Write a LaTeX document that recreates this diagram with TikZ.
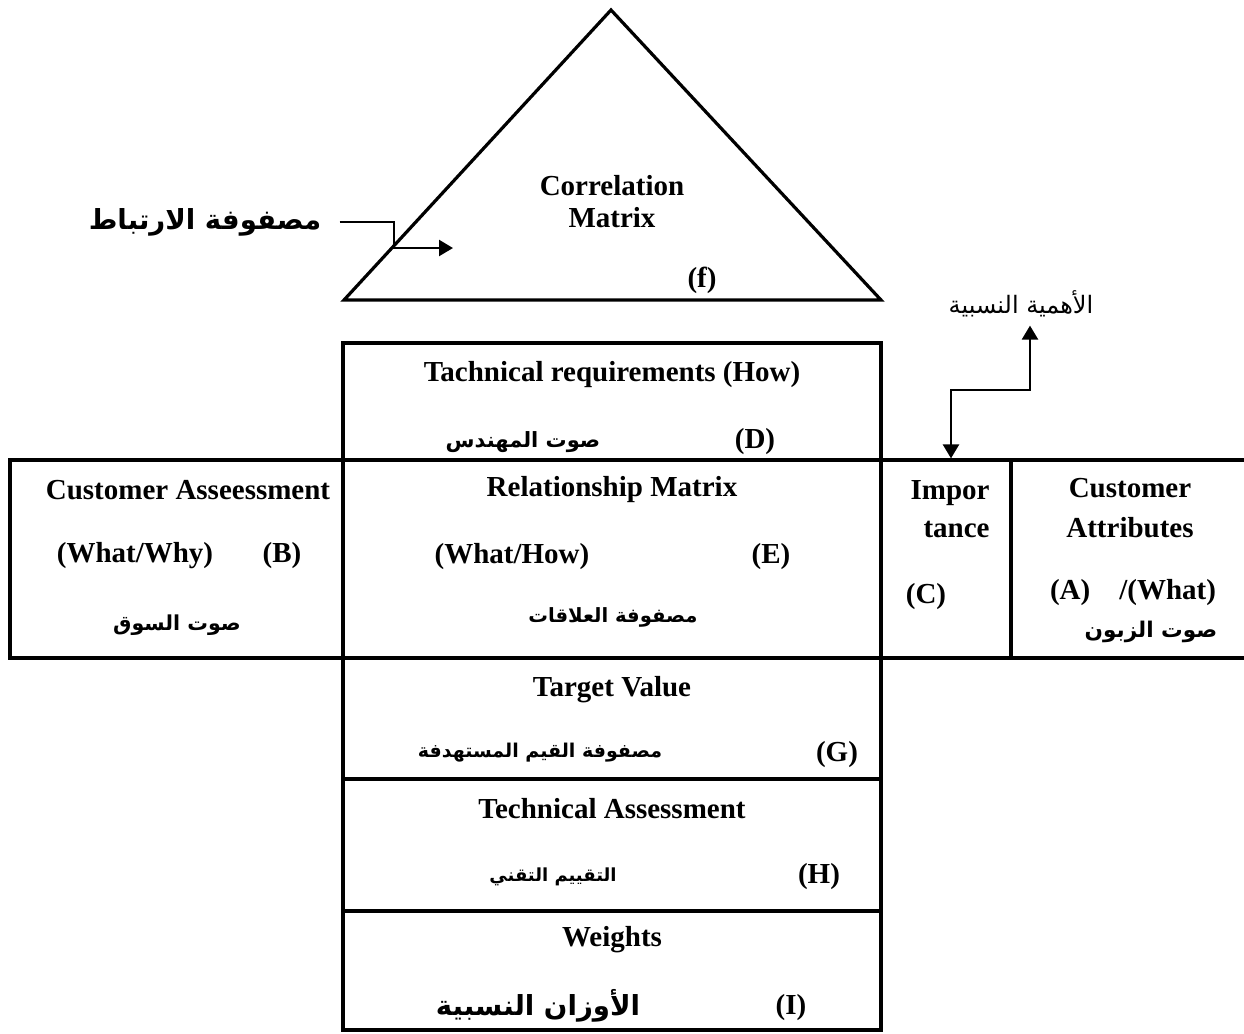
\documentclass[tikz,border=0pt]{standalone}
\usepackage{fontspec}
\setmainfont{Liberation Serif}
\newfontfamily\arabicfont[Script=Arabic]{DejaVu Sans}
\TeXXeTstate=1
\usetikzlibrary{arrows.meta,positioning}

\begin{document}
\begin{tikzpicture}[x=0.5pt, y=-0.5pt,
    cell/.style={draw, rectangle, line width=1.6pt, inner sep=0pt},
    txt/.style={font=\bfseries\fontsize{14.5}{19}\selectfont, inner sep=0pt},
    artxt/.style={font=\arabicfont\bfseries\fontsize{#1}{14}\selectfont, inner sep=0pt},
    artxt/.default=10.5,
    arrowline/.style={-{Triangle[length=7pt, width=8pt]}, line width=1.2pt}
]
\useasboundingbox (0,0) rectangle (1244,1034);
\clip (0,0) rectangle (1244,1034);

% Correlation roof
\coordinate (apex) at (611,10);
\coordinate (roofleft) at (344,300);
\coordinate (roofright) at (881,300);
\draw[line width=1.6pt, line join=miter] (apex) -- (roofleft) -- (roofright) -- cycle;
\node[txt, align=center, font=\bfseries\fontsize{14.5}{16}\selectfont] (corr) at (612,202) {Correlation\\Matrix};
\node[txt] (ftxt) at (702,280) {(f)};

% Label of the roof
\node[artxt=13.8] (corrlabel) at (205,222) {\beginR مصفوفة الارتباط\endR};
\coordinate (corrknee) at (394,248);
\coordinate (corrtip) at (453,248);
\draw[arrowline] ([xshift=9pt]corrlabel.east) -| (corrknee) -- (corrtip);

% Central column
\node[cell, minimum width=269pt, minimum height=58.5pt] (howbox) at (612,401.5) {};
\node[cell, minimum width=269pt, minimum height=99pt] (relbox) at (612,559) {};
\node[cell, minimum width=269pt, minimum height=60.5pt] (targetbox) at (612,718.5) {};
\node[cell, minimum width=269pt, minimum height=66pt] (techbox) at (612,845) {};
\node[cell, minimum width=269pt, minimum height=59.5pt] (weightbox) at (612,970.5) {};

% Side boxes
\node[cell, minimum width=166.5pt, minimum height=99pt] (custassbox) at (176.5,559) {};
\node[cell, minimum width=65pt, minimum height=99pt] (impbox) at (946,559) {};
\node[cell, minimum width=124.5pt, minimum height=99pt] (attrbox) at (1135.5,559) {};

% Technical requirements
\node[txt] (howtxt) at (612,375) {Tachnical requirements (How)};
\node[artxt=10.5] (engtxt) at (523,442) {\beginR صوت المهندس\endR};
\node[txt] (dtxt) at (755,442) {(D)};

% Relationship matrix
\node[txt] (reltxt) at (612,490) {Relationship Matrix};
\node[txt] (whathow) at (512,557) {(What/How)};
\node[txt] (etxt) at (771,557) {(E)};
\node[artxt=9.8] (relar) at (613,617) {\beginR مصفوفة العلاقات\endR};

% Customer assessment
\node[txt] (custass) at (188,490) {Customer Asseessment};
\node[txt] (whatwhy) at (135,556) {(What/Why)};
\node[txt] (btxt) at (282,556) {(B)};
\node[artxt=10.3] (market) at (177,625) {\beginR صوت السوق\endR};

% Importance
\node[txt, align=right, anchor=east] (imptxt) at (990,509) {Impor\\tance};
\node[txt] (ctxt) at (926,597) {(C)};
\node[font=\arabicfont\fontsize{12}{14}\selectfont, inner sep=0pt] (implabel) at (1021,304) {\beginR الأهمية النسبية\endR};
\coordinate (impbend) at (1030,390);
\draw[arrowline, {Triangle[length=7pt, width=8pt]}-{Triangle[length=7pt, width=8pt]}]
    ([xshift=2.5pt]impbox.north) |- (impbend) -- ([yshift=-4pt]impbend |- implabel.south);

% Customer attributes
\node[txt, align=center, font=\bfseries\fontsize{14.5}{20}\selectfont] (attrtxt) at (1130,508) {Customer\\Attributes};
\node[txt] (atxt) at (1133,593) {(A)\quad/(What)};
\node[artxt=10.8] (customer) at (1151,632) {\beginR صوت الزبون\endR};

% Target value
\node[txt] (targettxt) at (612,690) {Target Value};
\node[artxt=9.5] (targetar) at (540,753) {\beginR مصفوفة القيم المستهدفة\endR};
\node[txt] (gtxt) at (837,755) {(G)};

% Technical assessment
\node[txt] (techtxt) at (612,809) {Technical Assessment};
\node[artxt=9] (techar) at (553,877) {\beginR التقييم التقني\endR};
\node[txt] (htxt) at (819,877) {(H)};

% Weights
\node[txt] (weighttxt) at (612,940) {Weights};
\node[artxt=13.8] (weightar) at (538,1006) {\beginR الأوزان النسبية\endR};
\node[txt] (itxt) at (791,1008) {(I)};
\end{tikzpicture}
\end{document}
